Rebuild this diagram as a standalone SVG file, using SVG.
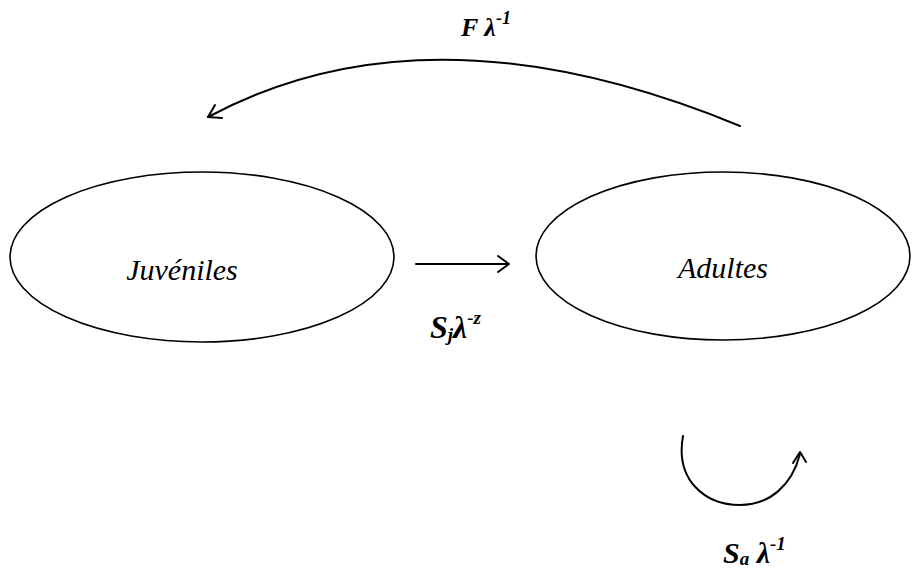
<svg xmlns="http://www.w3.org/2000/svg" width="913" height="571" viewBox="0 0 913 571">
<style>
.node{fill:#fff;stroke:#000;stroke-width:1.6}
.name{font-family:"Liberation Serif","Times New Roman","DejaVu Serif",serif;font-style:italic;font-size:30px;fill:#000}
.lbl{font-family:"Liberation Serif","Times New Roman","DejaVu Serif",serif;font-style:italic;font-weight:bold;fill:#000}
.edge{fill:none;stroke:#000;stroke-width:2;stroke-linecap:round;stroke-linejoin:round}
</style>
<rect width="913" height="571" fill="#fff"/>
<g id="juveniles">
<ellipse class="node" cx="202" cy="257" rx="192" ry="85"/>
<text class="name" x="182" y="280" text-anchor="middle">Juvéniles</text>
</g>
<g id="adultes">
<ellipse class="node" cx="723" cy="256" rx="187" ry="84"/>
<text class="name" x="723" y="278" text-anchor="middle">Adultes</text>
</g>
<g id="connectors">
<path class="edge" d="M740,126 Q430,-2 208,117"/>
<polyline class="edge" points="215,105 208,117 222,118"/>
<line class="edge" x1="416" y1="264" x2="508" y2="264" stroke-width="1.6"/>
<polyline class="edge" points="498,256 509,264 498,272" stroke-width="1.6"/>
<path class="edge" d="M683,436 C675,480 705,505 740,505 C770,505 792,485 800,454"/>
<polyline class="edge" points="793,463 800,452 806,462"/>
</g>
<g id="labels">
<text class="lbl" x="461" y="36" font-size="26">F λ<tspan dy="-12" font-size="18">-1</tspan></text>
<text class="lbl" x="430" y="338" font-size="32">S<tspan font-size="19" dy="3">j</tspan><tspan dy="-3">λ</tspan><tspan dy="-14" font-size="19">-z</tspan></text>
<text class="lbl" x="723" y="563" font-size="30">S<tspan font-size="19" dy="2">a</tspan><tspan dy="-2"> λ</tspan><tspan dy="-13" font-size="19">-1</tspan></text>
</g>
</svg>
